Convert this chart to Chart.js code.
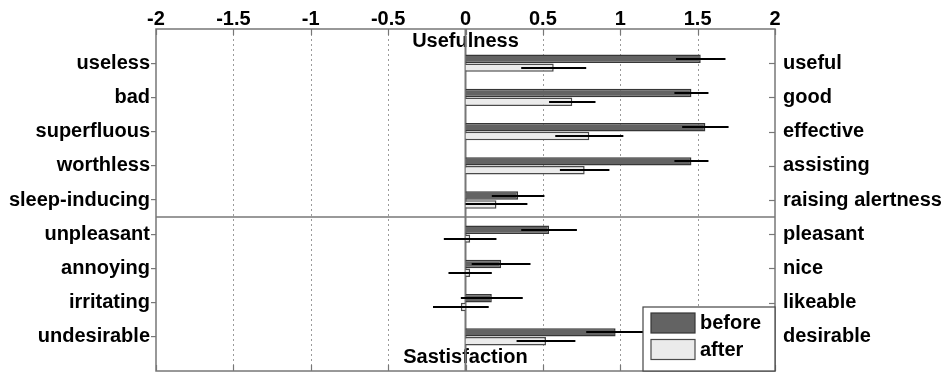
<!DOCTYPE html>
<html>
<head>
<meta charset="utf-8">
<script src="https://cdn.jsdelivr.net/npm/chart.js@4/dist/chart.umd.min.js"></script>
<style>
  html, body { margin: 0; padding: 0; background: #ffffff; }
  #wrap { width: 951px; height: 373px; }
</style>
</head>
<body>
<div id="wrap"><canvas id="c" width="951" height="373"></canvas></div>
<script>
// ---- data ----
const negLabels = ['useless', 'bad', 'superfluous', 'worthless', 'sleep-inducing',
                   'unpleasant', 'annoying', 'irritating', 'undesirable'];
const posLabels = ['useful', 'good', 'effective', 'assisting', 'raising alertness',
                   'pleasant', 'nice', 'likeable', 'desirable'];
const beforeValues = [1.52, 1.46, 1.55, 1.46, 0.34, 0.54, 0.23, 0.17, 0.97];
const beforeErrors = [0.16, 0.11, 0.15, 0.11, 0.17, 0.18, 0.19, 0.20, 0.19];
const afterValues  = [0.57, 0.69, 0.80, 0.77, 0.20, 0.03, 0.03, -0.03, 0.52];
const afterErrors  = [0.21, 0.15, 0.22, 0.16, 0.20, 0.17, 0.14, 0.18, 0.19];
const xTicks = [-2, -1.5, -1, -0.5, 0, 0.5, 1, 1.5, 2];
const groupTitles = ['Usefulness', 'Sastisfaction'];
const seriesNames = ['before', 'after'];
const groupSplitAfter = 5; // first 5 rows belong to 'Usefulness'

// padded category lists (empty slot above and below the rows)
const padL = ['', ...negLabels, ''];
const padR = ['', ...posLabels, ''];
const padBefore = [null, ...beforeValues, null];
const padAfter = [null, ...afterValues, null];
const padBeforeErr = [null, ...beforeErrors, null];
const padAfterErr = [null, ...afterErrors, null];

const FONT = "'Liberation Sans', Arial, sans-serif";
const FRAME = '#777777';

const decorPlugin = {
  id: 'decor',
  beforeDatasetsDraw(chart) {
    const { ctx, chartArea: a, scales } = chart;
    const xs = scales.x, ys = scales.y;
    ctx.save();
    // group titles
    ctx.fillStyle = '#000';
    ctx.font = 'bold 20px ' + FONT;
    ctx.textAlign = 'center';
    ctx.textBaseline = 'alphabetic';
    const x0 = xs.getPixelForValue(0);
    ctx.fillText(groupTitles[0], x0, a.top + 18);
    ctx.fillText(groupTitles[1], x0, a.bottom - 8);
    // dotted grid lines
    ctx.strokeStyle = '#9a9a9a';
    ctx.lineWidth = 1;
    ctx.setLineDash([2, 3]);
    xTicks.forEach(v => {
      if (v === 0 || v === xTicks[0] || v === xTicks[xTicks.length - 1]) return;
      const px = Math.round(xs.getPixelForValue(v)) + 0.5;
      ctx.beginPath(); ctx.moveTo(px, a.top); ctx.lineTo(px, a.bottom); ctx.stroke();
    });
    ctx.setLineDash([]);
    // inward tick marks top/bottom
    ctx.strokeStyle = FRAME;
    ctx.lineWidth = 1.2;
    xTicks.forEach(v => {
      const px = Math.round(xs.getPixelForValue(v)) + 0.5;
      ctx.beginPath(); ctx.moveTo(px, a.top); ctx.lineTo(px, a.top + 6); ctx.stroke();
      ctx.beginPath(); ctx.moveTo(px, a.bottom); ctx.lineTo(px, a.bottom - 6); ctx.stroke();
    });
    // right side inward ticks
    const y2 = scales.y2;
    for (let i = 1; i <= posLabels.length; i++) {
      const py = Math.round(y2.getPixelForValue(i)) + 0.5;
      ctx.beginPath(); ctx.moveTo(a.right, py); ctx.lineTo(a.right - 6, py); ctx.stroke();
    }
    // zero line
    ctx.lineWidth = 2;
    ctx.beginPath(); ctx.moveTo(x0, a.top); ctx.lineTo(x0, a.bottom); ctx.stroke();
    // group divider
    const yd = (ys.getPixelForValue(groupSplitAfter) + ys.getPixelForValue(groupSplitAfter + 1)) / 2;
    ctx.lineWidth = 1.5;
    ctx.beginPath(); ctx.moveTo(a.left, yd); ctx.lineTo(a.right, yd); ctx.stroke();
    // frame
    ctx.strokeRect(a.left, a.top, a.right - a.left, a.bottom - a.top);
    ctx.restore();
  },
  afterDatasetsDraw(chart) {
    const { ctx, scales } = chart;
    const xs = scales.x;
    const errs = [padBeforeErr, padAfterErr];
    ctx.save();
    ctx.strokeStyle = '#000';
    ctx.lineWidth = 2;
    chart.data.datasets.forEach((ds, di) => {
      const meta = chart.getDatasetMeta(di);
      meta.data.forEach((el, i) => {
        const v = ds.data[i], e = errs[di][i];
        if (v === null || e === null) return;
        const y = Math.round(el.y);
        ctx.beginPath();
        ctx.moveTo(xs.getPixelForValue(v - e), y);
        ctx.lineTo(xs.getPixelForValue(v + e), y);
        ctx.stroke();
      });
    });
    ctx.restore();
  },
  afterDraw(chart) {
    const { ctx, chartArea: a } = chart;
    const w = 132, h = 64;
    const lx = a.right - w, ly = a.bottom - h;
    ctx.save();
    ctx.fillStyle = '#fff';
    ctx.fillRect(lx, ly, w, h);
    ctx.strokeStyle = '#444';
    ctx.lineWidth = 1.2;
    ctx.strokeRect(lx, ly, w, h);
    ctx.font = 'bold 20px ' + FONT;
    ctx.textAlign = 'left';
    ctx.textBaseline = 'alphabetic';
    chart.data.datasets.forEach((ds, i) => {
      const sy = ly + 6 + i * 26.5;
      ctx.fillStyle = ds.backgroundColor;
      ctx.fillRect(lx + 8, sy, 44, 20);
      ctx.strokeStyle = ds.borderColor;
      ctx.lineWidth = 1.2;
      ctx.strokeRect(lx + 8, sy, 44, 20);
      ctx.fillStyle = '#000';
      ctx.fillText(ds.label, lx + 57, sy + 16);
    });
    ctx.restore();
  }
};

const noPad = s => { s.paddingTop = 0; s.paddingBottom = 0; };
const rowTickColor = c => (c.index === 0 || c.index === padL.length - 1) ? 'rgba(0,0,0,0)' : FRAME;

new Chart(document.getElementById('c'), {
  type: 'bar',
  data: {
    labels: padL,
    datasets: [
      { label: seriesNames[0], data: padBefore, backgroundColor: '#636363', borderColor: '#363636',
        borderWidth: 1.5, categoryPercentage: 0.52, barPercentage: 0.95 },
      { label: seriesNames[1], data: padAfter, backgroundColor: '#ebebeb', borderColor: '#4a4a4a',
        borderWidth: 1.5, categoryPercentage: 0.52, barPercentage: 0.95 }
    ]
  },
  options: {
    indexAxis: 'y',
    responsive: false,
    devicePixelRatio: 1,
    animation: false,
    layout: { padding: { top: 0, bottom: 2, left: 0, right: 0 } },
    plugins: { legend: { display: false }, tooltip: { enabled: false } },
    scales: {
      x: {
        type: 'linear', position: 'top', min: -2, max: 2,
        afterBuildTicks: s => { s.ticks = xTicks.map(v => ({ value: v })); },
        ticks: { callback: v => String(v), color: '#000', font: { family: FONT, size: 20, weight: 'bold' },
                 padding: -2, maxRotation: 0, autoSkip: false },
        grid: { display: false, drawTicks: false },
        border: { display: false },
        afterFit: s => { s.height = 29; s.paddingLeft = 0; s.paddingRight = 0; }
      },
      y: {
        type: 'category', labels: padL, position: 'left', offset: false,
        ticks: { color: '#000', font: { family: FONT, size: 20, weight: 'bold' }, padding: 1, autoSkip: false },
        grid: { offset: false, drawOnChartArea: false, drawTicks: true, tickLength: 5,
                color: rowTickColor, tickColor: rowTickColor, lineWidth: 1.2 },
        border: { display: false },
        afterFit: s => { s.width = 156; noPad(s); }
      },
      y2: {
        type: 'category', labels: padR, position: 'right', offset: false,
        ticks: { color: '#000', font: { family: FONT, size: 20, weight: 'bold' }, padding: 8, autoSkip: false },
        grid: { offset: false, display: false, drawTicks: false },
        border: { display: false },
        afterFit: s => { s.width = 176; noPad(s); }
      }
    }
  },
  plugins: [decorPlugin]
});
</script>
</body>
</html>
